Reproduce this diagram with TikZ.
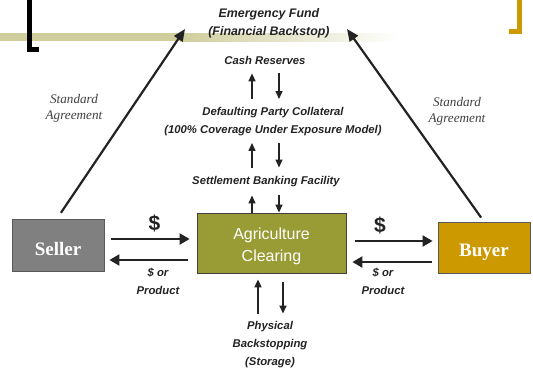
\documentclass[tikz,border=0pt]{standalone}
\usepackage{fontspec}
\setmainfont{Liberation Serif}
\setsansfont{Liberation Sans}
\usetikzlibrary{arrows.meta}

\definecolor{olivebox}{RGB}{153,155,52}
\definecolor{olivebar}{RGB}{207,206,156}
\definecolor{sellergray}{RGB}{128,128,128}
\definecolor{buyergold}{RGB}{204,153,0}
\definecolor{inkgray}{RGB}{35,35,35}

\tikzset{
  lbl/.style={inner sep=0pt, align=center, text=inkgray,
    font=\sffamily\bfseries\itshape\fontsize{11.3}{18}\selectfont},
  agree/.style={inner sep=0pt, align=center, text=black!75,
    font=\rmfamily\itshape\fontsize{13.2}{15.5}\selectfont},
  bigsym/.style={inner sep=0pt, text=inkgray,
    font=\sffamily\bfseries\fontsize{21}{21}\selectfont},
  party/.style={draw=black!65, line width=0.8pt, text=white, text depth=0pt,
    font=\rmfamily\bfseries\fontsize{19}{19}\selectfont},
  clearbox/.style={draw=black!75, line width=0.8pt, fill=olivebox, text=white,
    minimum width=149pt, minimum height=60pt, align=center, text height=39.5pt,
    font=\sffamily\fontsize{16}{22}\selectfont},
  harr/.style={-{Triangle[length=10pt,width=11pt]}, line width=2pt, draw=inkgray},
  varr/.style={-{Triangle[length=8pt,width=7pt]}, line width=1.4pt, draw=inkgray},
  darr/.style={-{Triangle[length=12pt,width=10pt]}, line width=2.2pt, draw=inkgray}
}

\begin{document}
\begin{tikzpicture}[x=1pt,y=-1pt]
  \useasboundingbox (0,0) rectangle (533,370);

  \fill[olivebar] (0,33) rectangle (180,41);
  \shade[left color=olivebar, right color=white] (180,33) rectangle (400,41);
  \draw[line width=5pt, line cap=butt] (29.5,0) -- (29.5,49.5) -- (39,49.5);
  \draw[buyergold, line width=5pt, line cap=butt] (519.5,0) -- (519.5,31) -- (509,31);

  \node[lbl, font=\sffamily\bfseries\itshape\fontsize{12.4}{17.5}\selectfont]
    (fund) at (269,23.5) {Emergency Fund\\(Financial Backstop)};
  \node[lbl] (cash) at (265,60) {Cash Reserves};
  \node[lbl] (collat) at (273,121.5)
    {Defaulting Party Collateral\\(100\% Coverage Under Exposure Model)};
  \node[lbl] (settle) at (266,182) {Settlement Banking Facility};
  \node[clearbox] (clear) at (271.5,243) {Agriculture\\Clearing};
  \node[party, fill=sellergray, minimum width=92pt, minimum height=52pt, text height=21pt]
    (seller) at (58,245) {Seller};
  \node[party, fill=buyergold, minimum width=92pt, minimum height=51pt, text height=18pt]
    (buyer) at (484,247.5) {Buyer};
  \node[lbl] (phys) at (270,345) {Physical\\Backstopping\\(Storage)};

  \node[bigsym] (dollarl) at (154.5,223) {\$};
  \node[bigsym] (dollarr) at (380,225) {\$};
  \node[lbl] (backl) at (158,281) {\$ or\\Product};
  \node[lbl] (backr) at (383,281) {\$ or\\Product};
  \node[agree] (agreel) at (74,108.5) {Standard\\Agreement};
  \node[agree] (agreer) at (457,111.5) {Standard\\Agreement};

  \coordinate (fundl) at (185,29);
  \coordinate (fundr) at (347,29);

  \foreach \lo/\hi/\a/\b in {collat/cash/8/9, settle/collat/9/7, clear/settle/0/8} {
    \draw[varr, shorten <=\a pt, shorten >=\b pt] (\lo.north -| 252,0) -- (\hi.south -| 252,0);
    \draw[varr, shorten <=\b pt, shorten >=\a pt] (\hi.south -| 279,0) -- (\lo.north -| 279,0);
  }
  \draw[varr, line width=1.8pt, shorten <=8pt, shorten >=6pt] (phys.north -| 258,0) -- (clear.south -| 258,0);
  \draw[varr, line width=1.8pt, shorten <=9pt, shorten >=8pt] (clear.south -| 283,0) -- (phys.north -| 283,0);

  \draw[harr, shorten <=7pt, shorten >=7pt] (seller.east |- 0,239) -- (clear.west |- 0,239);
  \draw[harr, shorten <=9pt, shorten >=5pt] (clear.west |- 0,260) -- (seller.east |- 0,260);
  \draw[harr, shorten <=9pt, shorten >=5pt] (clear.east |- 0,241) -- (buyer.west |- 0,241);
  \draw[harr, shorten <=6pt, shorten >=6pt] (buyer.west |- 0,262) -- (clear.east |- 0,262);

  \draw[darr, shorten <=7pt] ([xshift=-1pt]seller.north) -- (fundl);
  \draw[darr, shorten <=5pt] (buyer.north) -- (fundr);
\end{tikzpicture}
\end{document}
